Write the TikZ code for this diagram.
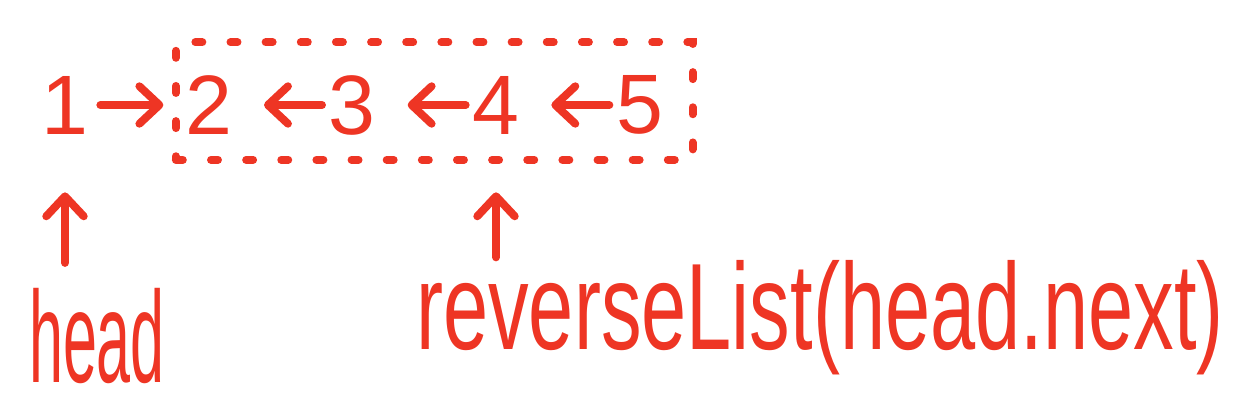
\documentclass[tikz,border=0pt]{standalone}
\usepackage{fontspec}
\setmainfont{Liberation Sans}
\usepackage{tikz}
\usetikzlibrary{positioning,fit,arrows.meta}
\definecolor{inkred}{HTML}{EE3524}

\begin{document}
\begin{tikzpicture}[
  x=0.02cm, y=-0.02cm,
  node distance=1.86cm,
  every node/.style={text=inkred, inner sep=0pt},
  digit/.style={minimum width=1cm, font=\fontsize{48}{56}\selectfont},
  word/.style={font=\fontsize{70}{84}\selectfont},
  link/.style={-{Straight Barb[length=0.4cm,width=0.75cm,round]}, draw=inkred, line width=4.5pt, line cap=round},
  dashbox/.style={draw=inkred, line width=4.5pt, line cap=round, dash pattern=on 4pt off 16pt}
  ]
\useasboundingbox (0,0) rectangle (1247,402);

\node[digit] (n1) at (65,105) {1};
\node[digit, right=of n1] (n2) {2};
\node[digit, right=of n2] (n3) {3};
\node[digit, right=of n3] (n4) {4};
\node[digit, right=of n4] (n5) {5};

\node[dashbox, fit=(n2)(n5), inner xsep=0.35cm, inner ysep=0.58cm, xshift=0.2cm, yshift=0.08cm] (box) {};

\draw[link, shorten <=0.2cm, shorten >=0.4cm] (n1) -- (n2);
\draw[link, shorten <=0.1cm, shorten >=0.6cm] (n3) -- (n2);
\draw[link, shorten <=0.1cm, shorten >=0.6cm] (n4) -- (n3);
\draw[link, shorten <=0.1cm, shorten >=0.6cm] (n5) -- (n4);

\node[word, font=\fontsize{74}{88}\selectfont] (headlbl) at (97,336) {\scalebox{0.47}[1]{head}};
\node[word] (revlbl) at (820,318) {\scalebox{0.66}[1]{reverseList(head.next)}};

\draw[link, shorten <=0.5cm, shorten >=1.16cm] (n1 |- headlbl.north) -- (n1.south);
\draw[link, shorten <=0.06cm, shorten >=1.16cm] (n4 |- revlbl.north) -- (n4.south);

\end{tikzpicture}
\end{document}
